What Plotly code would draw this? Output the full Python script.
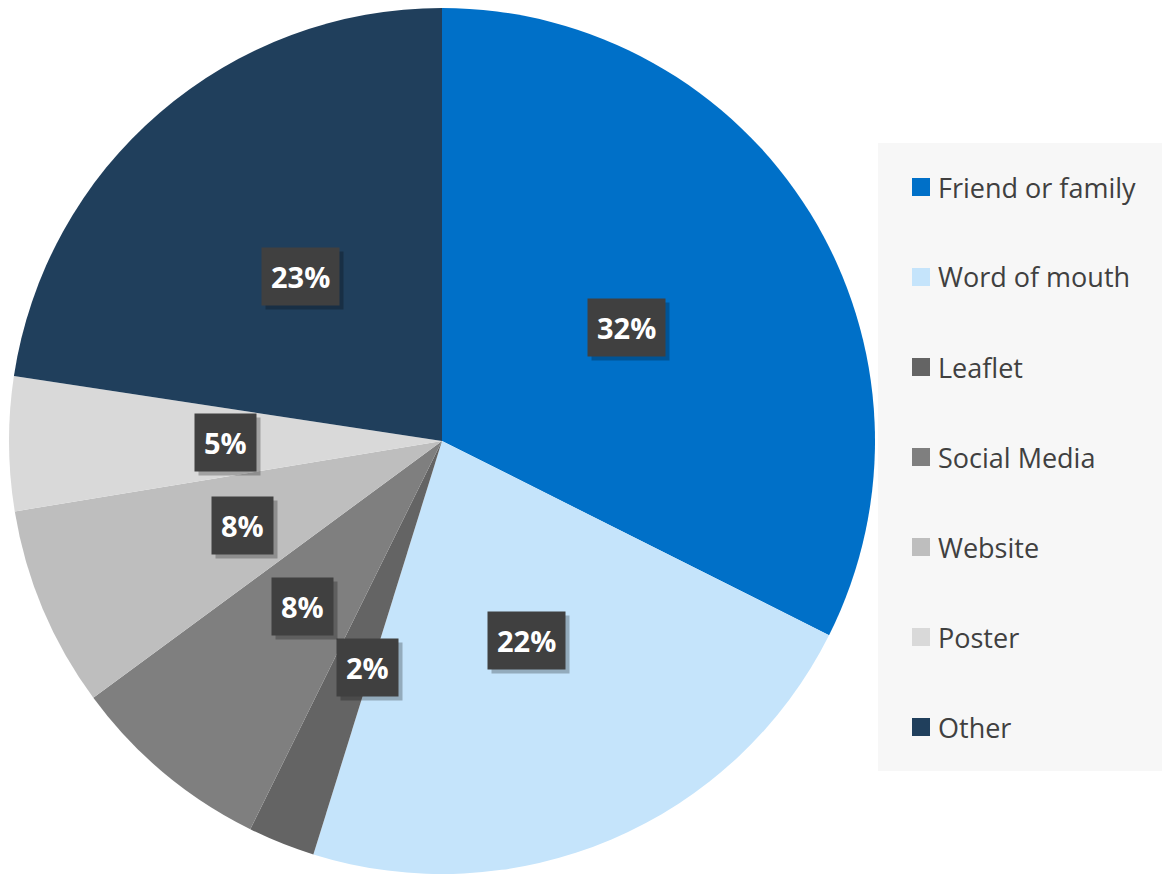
import math
import plotly.graph_objects as go

# ---- data ----
categories = ["Friend or family", "Word of mouth", "Leaflet", "Social Media",
              "Website", "Poster", "Other"]
values = [32.4, 22.4, 2.5, 7.6, 7.5, 5.0, 22.6]
value_labels = ["32%", "22%", "2%", "8%", "8%", "5%", "23%"]
colors = ["#0070C8", "#C5E4FB", "#646464", "#7F7F7F", "#BEBEBE", "#D9D9D9", "#203F5C"]

OFF = 8                               # page body margin
W, H = 1162, 867                      # figure size
CX, CY, R = 434, 433, 433             # pie centre / radius in figure px
label_r = [0.5, 0.5, 0.55, 0.5, 0.5, 0.5, 0.5]
label_dang = [0, 0, -3.6, 0, 0, 0, 0]   # small angular nudge (deg)

fig = go.Figure()
fig.add_trace(go.Pie(
    labels=categories, values=values, sort=False, direction="clockwise",
    rotation=0, marker=dict(colors=colors, line=dict(width=0)),
    textinfo="none", hoverinfo="label+percent", showlegend=False,
    domain=dict(x=[(CX - R) / W, (CX + R) / W], y=[1 - (CY + R) / H, 1 - (CY - R) / H]),
))

# ---- value labels (dark boxes) ----
annotations = []
total = sum(values)
cum = 0.0
for i, v in enumerate(values):
    mid = (cum + v / 2) / total * 360 + label_dang[i]
    cum += v
    a = math.radians(mid)
    px = CX + label_r[i] * R * math.sin(a)
    py = CY - label_r[i] * R * math.cos(a)
    x, y = px / W, 1 - py / H
    common = dict(x=x, y=y, xref="paper", yref="paper", showarrow=False,
                  xanchor="center", yanchor="middle",
                  text="<b>" + value_labels[i] + "</b>", borderpad=9)
    # shadow
    annotations.append(dict(common, xshift=4, yshift=-4,
                            font=dict(family="Open Sans", size=29, color="rgba(0,0,0,0)"),
                            bgcolor="rgba(0,0,0,0.25)"))
    annotations.append(dict(common,
                            font=dict(family="Open Sans", size=29, color="white"),
                            bgcolor="#404040"))

# ---- legend (manual) ----
shapes = [dict(type="rect", xref="paper", yref="paper",
               x0=(878 - OFF) / W, x1=(1170 - OFF) / W,
               y0=1 - (771 - OFF) / H, y1=1 - (143 - OFF) / H,
               fillcolor="#F7F7F7", line=dict(width=0), layer="below")]
for i, (cat, col) in enumerate(zip(categories, colors)):
    yc = 187 + 90 * i - OFF
    shapes.append(dict(type="rect", xref="paper", yref="paper",
                       x0=(912 - OFF) / W, x1=(930 - OFF) / W,
                       y0=1 - (yc + 9) / H, y1=1 - (yc - 9) / H,
                       fillcolor=col, line=dict(width=0)))
    annotations.append(dict(x=(936 - OFF) / W, y=1 - yc / H, xref="paper", yref="paper",
                            xanchor="left", yanchor="middle", showarrow=False, text=cat,
                            font=dict(family="Open Sans", size=27, color="#404040")))

fig.update_layout(width=W, height=H, margin=dict(l=0, r=0, t=0, b=0),
                  paper_bgcolor="white", plot_bgcolor="white",
                  annotations=annotations, shapes=shapes, showlegend=False)
fig.write_html("out.html")
